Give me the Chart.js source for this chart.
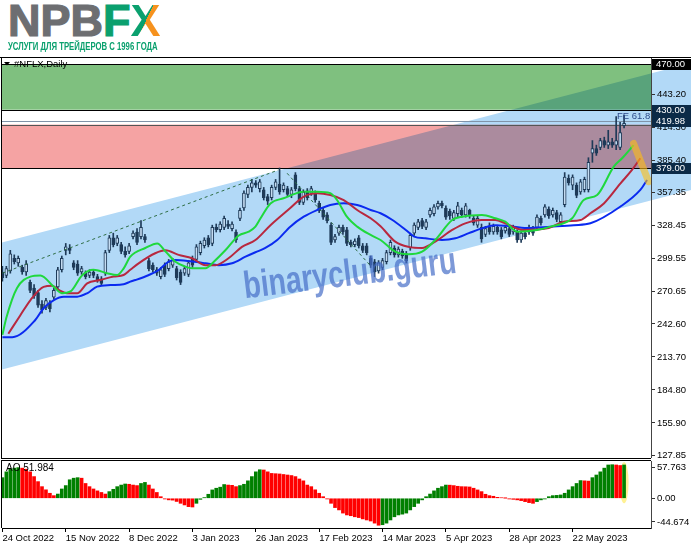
<!DOCTYPE html>
<html>
<head>
<meta charset="utf-8">
<script src="https://cdn.jsdelivr.net/npm/chart.js@4.4.1/dist/chart.umd.min.js"></script>
<style>
  html, body { margin: 0; padding: 0; background: #fff; }
  body { width: 691px; height: 549px; position: relative; overflow: hidden; }
  #logo { position: absolute; left: 8px; top: -2px; font: bold 45px "Liberation Sans", Arial, sans-serif; line-height: 45px; color: #6d6e71; -webkit-text-stroke: 1.2px #6d6e71; white-space: nowrap; }
  #logo .f { color: #0aa06e; -webkit-text-stroke: 1.2px #0aa06e; }
  #logo .x { background: linear-gradient(115deg, #0aa06e 50%, #f6921e 50%); -webkit-background-clip: text; background-clip: text; color: transparent; -webkit-text-stroke: 0; }
  #tag { position: absolute; left: 8px; top: 40px; font: bold 11.5px "Liberation Sans", Arial, sans-serif; color: #0aa06e; white-space: nowrap; transform-origin: 0 0; }
  canvas { position: absolute; left: 0; }
</style>
</head>
<body>
<div id="logo">NPB<span class="f">F</span><span class="x">X</span></div>
<div id="tag">УСЛУГИ ДЛЯ ТРЕЙДЕРОВ С 1996 ГОДА</div>
<canvas id="main" width="691" height="404" style="top:56px"></canvas>
<canvas id="ao" width="691" height="93" style="top:456px"></canvas>
<script>
// daily candles, 24 Oct 2022 .. 9 Jun 2023
const opens = [288,285,289,300,296,292,288,279,274,270,260,257,261,266,275,290,307,309,296,295,
  288,287,285,288,284,282,287,307,318,313,312,306,306,319,323,319,319,298,294,290,
  284,294,291,294,291,288,287,286,300,299,305,311,318,313,327,325,327,330,326,323,
  335,344,356,362,366,361,360,354,353,362,365,360,361,356,373,361,349,359,357,357,
  348,342,338,329,316,322,327,325,314,312,318,311,311,300,297,289,292,297,305,309,
  303,306,304,309,322,327,333,327,338,339,345,348,344,341,335,339,342,338,342,335,
  329,327,321,327,323,327,325,324,326,323,323,316,322,323,326,327,335,338,343,338,
  340,332,347,370,364,364,358,360,360,392,396,397,403,399,402,399,397,416];
const highs = [293,293,307,303,302,294,298,281,277,272,263,265,263,274,292,302,313,312,298,298,
  293,289,290,290,286,284,307,320,322,320,314,310,313,324,326,333,321,300,296,292,
  292,296,299,300,293,290,293,298,302,312,315,318,320,329,330,332,337,333,332,325,
  344,359,364,369,368,369,362,356,364,369,379,366,363,362,375,363,360,361,363,359,
  350,344,340,331,321,329,329,327,316,317,320,313,313,302,299,298,300,307,316,311,
  310,308,306,322,331,334,335,334,344,347,350,350,346,343,342,349,344,348,343,337,
  337,330,328,331,330,329,327,329,328,329,325,324,324,329,328,338,337,347,345,344,
  342,340,375,373,373,366,369,371,388,403,399,405,406,412,405,424,419,425];
const lows = [280,283,287,295,293,286,285,270,265,257,252,255,253,264,273,288,303,304,290,285,
  286,282,283,283,279,276,285,305,310,311,304,301,304,317,312,317,314,289,288,285,
  282,284,289,292,281,277,285,284,292,297,303,309,310,311,323,323,325,326,324,314,
  333,342,353,358,362,358,351,347,351,360,356,358,354,353,359,347,347,351,355,349,
  340,334,331,312,314,320,321,311,310,310,309,305,303,292,284,287,290,295,303,301,
  301,300,296,307,320,325,326,325,336,337,343,344,334,334,333,336,336,336,335,329,
  327,314,319,321,321,321,317,322,319,321,314,314,317,321,320,325,329,336,335,336,
  332,330,345,364,360,353,356,358,358,384,390,395,397,396,397,395,395,414];
const closes = [283,291,304,297,300,288,295,272,267,259,255,263,256,272,290,300,310,307,292,287,
  291,284,288,285,281,278,305,318,312,318,306,303,311,322,314,327,316,291,290,287,
  290,286,297,298,283,279,291,296,294,310,313,316,312,327,325,330,335,328,330,316,
  342,357,362,366,364,367,353,350,362,367,358,364,356,360,361,349,358,353,361,351,
  342,336,333,314,319,327,323,313,312,315,311,307,305,294,288,296,298,305,314,303,
  308,302,298,320,329,332,328,332,342,345,348,346,336,337,340,346,338,346,338,331,
  335,317,326,323,328,323,319,327,321,327,316,322,319,327,322,336,331,345,337,342,
  334,338,371,366,371,355,367,369,384,396,392,403,399,402,399,403,410,418];

// Alligator lines (bar index, price)
const lipsX = [0,1,3.7,7.1,9.6,13,15,17.2,20.1,23,26.4,29,30.6,32.3,36.1,39.1,41.2,43.7,46.2,47.9,51.3,53.4,56.3,59.7,62.2,63.9,65.2,67.7,71,76.1,79.5,82.8,84.5,87,89.6,93,95.5,99.2,102.5,106,109.3,113.6,116.1,121.1,124.5,127,130,135,138.4,143.9,146.8,150.2,154.4,156.5,159.4];
const lipsY = [233,248,274,284,285,275,269.5,271,285,290,287,285.4,291,301.4,309,313,306,297,292.7,291.3,291.3,297,307,320,323.3,327.7,335,348,352.5,358.3,358.3,357,351,336.4,327.7,320.4,316,305.8,303.5,305.8,316,333.5,336.4,337.9,335,332,323.3,324.8,327.7,335,351,355.4,380.2,387.5,399];
const teethX = [1.5,4.5,7.1,10.4,12.6,14.2,16.3,18.9,21.4,24.7,28.1,30.6,32.3,34.4,38.6,41.2,44.5,47.9,51.3,53.8,57.1,60.5,63.9,67.7,72.7,76.1,79.5,82.8,86.2,89.6,93,95.5,99.2,102.6,106,109.3,113.6,116.9,121.1,124.5,127,131.6,137.6,141.8,146,148.5,151.9,156.1,159,161.1];
const teethY = [234,250,263.5,275,276,272.3,269.4,269.4,278,281,284,285.4,290,295.6,304.4,307,303,300,294,294,300,310,316,329,344,354,357,355.4,351,342.3,335,328,314.6,310,309,314.6,324.8,330.6,333.5,333.5,330.6,324.8,326.2,332,333.5,339.4,348,365.6,377.3,387.5];
const jawX = [0,2.5,8.3,10.4,13,15.5,18.9,21.4,23.9,27.3,30.6,32.3,33.6,37,39.5,42,43.7,47.9,51.3,54.6,58,61.4,63.9,66.3,69.4,72.7,76.1,79.5,82.8,86.2,89.6,93,95.5,98.5,101.8,104,106.8,111,114.4,117.8,121.1,124.5,127,132.5,138.4,144.3,148.5,156.1,161.1,162.8];
const jawY = [231,231,246,256.3,263.5,266.4,266.4,269.4,275.2,276.6,277.3,279.6,281,285.4,289.8,297.1,298.5,297.1,295.6,294,295.6,301.4,305.3,308.8,316,327.7,336.4,342.3,346.7,348.1,346.7,342.3,339.4,333.5,325,319,317.5,316,317.5,322,326.2,329,328.5,326.5,327.7,329,330.6,345.3,359.8,368.5];

// Awesome Oscillator
const aoVals = [39,50,55,57,58,57,55,50,41,31.5,22,16,9.5,5,8,17.6,24,35,38,39,
  38,28,22,17.6,14,11,8,12.6,17,22,25,27,26.5,25,24,28,30,25,17.6,11,
  3,-1.3,-3,-3.5,-6,-9.5,-12.6,-15.8,-16.5,-9.5,-2,1.3,7.6,15.8,19,21,26,25,24.5,22,
  24,26.5,33,41,50,54,53.5,50,47,46.5,46,45,44,43,41,36.5,33,25,22,16,
  9.5,3,-1.3,-9.5,-17.6,-22,-28,-31.5,-33,-35,-36.5,-39,-41,-43,-47,-51,-50,-47,-41,-35,
  -31.5,-30,-28,-22,-15.8,-9.5,-3,3,8,14,19,22,25,24.8,24,22.7,22,21.8,21.4,19,
  15.8,12.6,7.6,5,3.8,1.8,1,0.2,-1.3,-2,-3,-4.4,-6.3,-8.2,-9.5,-6.3,-3,-1.3,3,5,
  5.5,6.3,9.5,15.8,22,28,33.5,33,32.5,39,44,50,57,63,63.5,63,62,63];

const dateIdx = [0, 16, 32, 48, 64, 80, 96, 112, 128, 144];
const dateLabels = ['24 Oct 2022', '15 Nov 2022', '8 Dec 2022', '3 Jan 2023', '26 Jan 2023',
  '17 Feb 2023', '14 Mar 2023', '5 Apr 2023', '28 Apr 2023', '22 May 2023'];
const priceTicks = [443.20, 414.30, 385.40, 357.35, 328.45, 299.55, 270.65, 242.60, 213.70, 184.80, 155.90, 127.85];
const aoTicks = [57.763, 0, -44.674];
const boxLevels = [470, 430, 419.98, 379];
const zoneTop = [470, 417];
const zoneBottom = [430, 379];
const chanUpper = [[-0.5, 313.4], [174, 470.9]];
const chanLower = [[-0.5, 202.3], [174, 359.8]];
const trendUp = [[0, 287], [69.7, 377.3]];
const trendDown = [[71.9, 374.4], [93, 293.3]];
const feLevel = 419.98;
const arrowPts = [[159.4, 400.5], [163.2, 367]];

const FONT = '"Liberation Sans", Arial, sans-serif';
Chart.defaults.font.family = FONT;
Chart.defaults.font.size = 9.5;
Chart.defaults.color = '#000';

const xMin = -0.1, xMax = 163.8;
const idx = closes.map((_, i) => i);
const bull = idx.map(i => closes[i] >= opens[i]);
const candleInk = '#1e3a58';

// fit the tagline under the logo
const tag = document.getElementById('tag');
tag.style.transform = 'scaleX(' + (150 / tag.offsetWidth) + ')';

// no extra room for edge labels: the plot area is fixed by layout padding
const noEdge = s => { s.paddingTop = 0; s.paddingBottom = 0; s.paddingLeft = 0; s.paddingRight = 0; };

function px(chart, p) {
  return [chart.scales.x.getPixelForValue(p[0]), chart.scales.y.getPixelForValue(p[1])];
}

const mainDecor = {
  id: 'mainDecor',
  beforeDraw(chart) {
    const { ctx, chartArea: a, scales: { y } } = chart;
    // regression channel, runs under the price scale too
    ctx.save();
    ctx.beginPath();
    ctx.rect(a.left, a.top, chart.width - a.left, a.bottom - a.top);
    ctx.clip();
    ctx.fillStyle = '#b2d9f7';
    ctx.beginPath();
    [chanUpper[0], chanUpper[1], chanLower[1], chanLower[0]].forEach((p, k) => {
      const [X, Y] = px(chart, p);
      k ? ctx.lineTo(X, Y) : ctx.moveTo(X, Y);
    });
    ctx.closePath();
    ctx.fill();
    ctx.restore();

    // resistance / target zones
    ctx.save();
    ctx.beginPath();
    ctx.rect(a.left, a.top, a.right - a.left, a.bottom - a.top);
    ctx.clip();
    ctx.globalCompositeOperation = 'multiply';
    const fills = ['#7fc07f', '#f5a3a3'];
    zoneTop.forEach((t, k) => {
      const y1 = y.getPixelForValue(t), y2 = y.getPixelForValue(zoneBottom[k]);
      ctx.fillStyle = fills[k];
      ctx.fillRect(a.left, y1, a.right - a.left, y2 - y1);
    });
    ctx.globalCompositeOperation = 'source-over';
    ctx.fillStyle = '#000';
    [zoneTop[0], zoneBottom[0], zoneBottom[1]].forEach(v => {
      ctx.fillRect(a.left, Math.round(y.getPixelForValue(v)), a.right - a.left, 1);
    });
    ctx.fillStyle = '#555';
    ctx.fillRect(a.left, Math.round(y.getPixelForValue(zoneTop[1])), a.right - a.left, 1);
    ctx.fillStyle = '#8093a8';
    ctx.fillRect(a.left, Math.round(y.getPixelForValue(feLevel)), a.right - a.left, 1);
    ctx.restore();
  },
  afterDatasetsDraw(chart) {
    const { ctx, chartArea: a } = chart;
    ctx.save();
    ctx.beginPath();
    ctx.rect(a.left, a.top, a.right - a.left, a.bottom - a.top);
    ctx.clip();
    ctx.strokeStyle = '#2f6e45';
    ctx.lineWidth = 1;
    ctx.setLineDash([3, 3]);
    [trendUp, trendDown].forEach(l => {
      ctx.beginPath();
      ctx.moveTo(...px(chart, l[0]));
      ctx.lineTo(...px(chart, l[1]));
      ctx.stroke();
    });
    ctx.setLineDash([]);
    // forecast arrow
    ctx.strokeStyle = 'rgba(255,190,20,0.6)';
    ctx.lineWidth = 7;
    ctx.lineCap = 'round';
    ctx.beginPath();
    ctx.moveTo(...px(chart, arrowPts[0]));
    ctx.lineTo(...px(chart, arrowPts[1]));
    ctx.stroke();
    ctx.restore();
    // FE label
    ctx.save();
    ctx.font = '9.5px ' + FONT;
    ctx.fillStyle = '#2c4a8a';
    ctx.textBaseline = 'bottom';
    ctx.fillText('FE 61.8', 617, chart.scales.y.getPixelForValue(feLevel));
    ctx.restore();
  },
  afterDraw(chart) {
    const { ctx, chartArea: a, scales: { y } } = chart;
    ctx.save();
    // watermark
    ctx.translate(350, 219);
    ctx.rotate(-0.12);
    ctx.font = 'bold 38px ' + FONT;
    const w = ctx.measureText('binaryclub.guru').width;
    ctx.scale(214 / w, 1);
    ctx.fillStyle = 'rgba(70,110,200,0.7)';
    ctx.textAlign = 'center';
    ctx.textBaseline = 'middle';
    ctx.fillText('binaryclub.guru', 0, 0);
    ctx.restore();

    // level boxes on the price scale
    ctx.save();
    ctx.font = '9.5px ' + FONT;
    ctx.textBaseline = 'middle';
    boxLevels.forEach((v, k) => {
      const Y = Math.round(y.getPixelForValue(v));
      ctx.fillStyle = k === 0 ? '#000' : '#0b2a47';
      ctx.fillRect(a.right + 1, Y - 5, chart.width - a.right - 1, 11);
      ctx.fillStyle = '#fff';
      ctx.fillText(v.toFixed(2), a.right + 5, Y + 0.5);
    });
    // frame
    ctx.fillStyle = '#000';
    ctx.fillRect(0, 1, chart.width, 1);
    ctx.fillRect(1, 1, 1, a.bottom);
    ctx.fillRect(1, a.bottom + 1, a.right - 1, 1);
    // symbol caption
    ctx.beginPath();
    ctx.moveTo(4, 6); ctx.lineTo(10, 6); ctx.lineTo(7, 9.5); ctx.closePath();
    ctx.fill();
    ctx.fillText('#NFLX,Daily', 14, 8);
    ctx.restore();
  }
};

new Chart(document.getElementById('main'), {
  type: 'bar',
  data: {
    datasets: [
      { type: 'line', data: lipsX.map((v, k) => ({ x: v, y: lipsY[k] })), borderColor: '#1fd83c', borderWidth: 2, pointRadius: 0, cubicInterpolationMode: 'monotone', order: 1 },
      { type: 'line', data: teethX.map((v, k) => ({ x: v, y: teethY[k] })), borderColor: '#b8283f', borderWidth: 2, pointRadius: 0, cubicInterpolationMode: 'monotone', order: 1 },
      { type: 'line', data: jawX.map((v, k) => ({ x: v, y: jawY[k] })), borderColor: '#0a2af0', borderWidth: 2, pointRadius: 0, cubicInterpolationMode: 'monotone', order: 1 },
      { data: idx.map(i => ({ x: i, y: [Math.min(opens[i], closes[i]), Math.max(opens[i], closes[i])] })),
        backgroundColor: idx.map(i => bull[i] ? '#c4dcf2' : candleInk), borderColor: candleInk, borderWidth: 1,
        borderSkipped: false, barThickness: 3, minBarLength: 1, grouped: false, order: 2 },
      { data: idx.map(i => ({ x: i, y: [lows[i], highs[i]] })), backgroundColor: candleInk,
        barThickness: 1, grouped: false, order: 3 }
    ]
  },
  options: {
    responsive: false, animation: false, events: [],
    layout: { padding: { left: 2, top: 2, right: 0, bottom: 3 } },
    plugins: { legend: { display: false }, tooltip: { enabled: false } },
    scales: {
      x: { type: 'linear', min: xMin, max: xMax, offset: false, display: false, grid: { offset: false } },
      y: {
        position: 'right', min: 126.15, max: 475.25,
        afterFit: s => { s.width = 40; noEdge(s); },
        afterBuildTicks: s => { s.ticks = priceTicks.map(v => ({ value: v })); },
        ticks: { autoSkip: false, padding: 2, callback: v => v.toFixed(2) },
        grid: { drawOnChartArea: false, drawTicks: true, tickLength: 4, color: '#333' },
        border: { display: true, color: '#444' }
      }
    }
  },
  plugins: [mainDecor]
});

const aoDecor = {
  id: 'aoDecor',
  beforeDatasetsDraw(chart) {
    const { ctx, scales: { x, y } } = chart;
    const last = aoVals.length - 1;
    ctx.save();
    ctx.fillStyle = 'rgba(255,230,60,0.55)';
    ctx.beginPath();
    ctx.ellipse(x.getPixelForValue(last), (y.getPixelForValue(aoVals[last]) + y.getPixelForValue(0)) / 2 + 1,
      4.5, (y.getPixelForValue(0) - y.getPixelForValue(aoVals[last])) / 2 + 4, 0, 0, Math.PI * 2);
    ctx.fill();
    ctx.restore();
  },
  afterDraw(chart) {
    const { ctx, chartArea: a } = chart;
    ctx.save();
    ctx.fillStyle = '#000';
    ctx.fillRect(1, a.top - 1, a.right - 1, 1);
    ctx.fillRect(1, a.top - 1, 1, a.bottom - a.top + 1);
    ctx.font = '10px ' + FONT;
    ctx.textBaseline = 'middle';
    ctx.fillText('AO 51.984', 6, a.top + 7);
    ctx.restore();
  }
};

new Chart(document.getElementById('ao'), {
  type: 'bar',
  data: {
    datasets: [{
      data: aoVals.map((v, i) => ({ x: i, y: v })),
      backgroundColor: aoVals.map((v, i) => (i === 0 || v > aoVals[i - 1]) ? '#008000' : '#ff0000'),
      barThickness: 3, grouped: false
    }]
  },
  options: {
    responsive: false, animation: false, events: [],
    layout: { padding: { left: 2, top: 5, right: 0, bottom: 0 } },
    plugins: { legend: { display: false }, tooltip: { enabled: false } },
    scales: {
      x: {
        type: 'linear', min: xMin, max: xMax, offset: false,
        afterFit: s => { s.height = 21; noEdge(s); },
        afterBuildTicks: s => { s.ticks = dateIdx.map(v => ({ value: v })); },
        ticks: { autoSkip: false, maxRotation: 0, align: 'start', padding: 1, font: { size: 9.5 },
          callback: (v, i) => dateLabels[i] },
        grid: { offset: false, drawOnChartArea: false, drawTicks: true, tickLength: 4, color: '#000' },
        border: { display: true, color: '#000' }
      },
      y: {
        position: 'right', min: -56.2, max: 70.5,
        afterFit: s => { s.width = 40; noEdge(s); },
        afterBuildTicks: s => { s.ticks = aoTicks.map(v => ({ value: v })); },
        ticks: { autoSkip: false, padding: 2, callback: v => v === 0 ? '0.00' : v.toFixed(3) },
        grid: { drawOnChartArea: false, drawTicks: true, tickLength: 4, color: '#333' },
        border: { display: true, color: '#444' }
      }
    }
  },
  plugins: [aoDecor]
});
</script>
</body>
</html>
